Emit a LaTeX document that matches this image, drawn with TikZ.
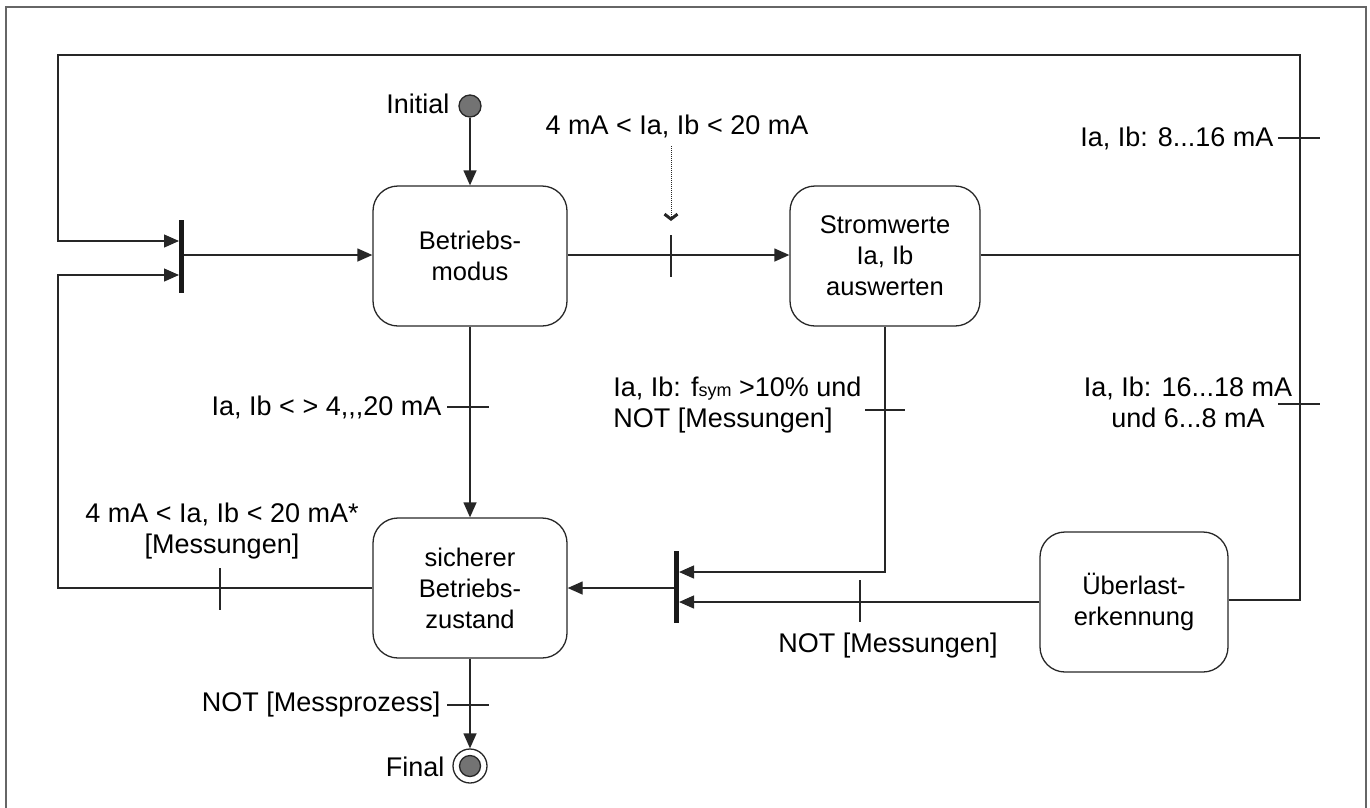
\documentclass[tikz,border=0pt]{standalone}
\usepackage{fontspec}
\setmainfont{Liberation Sans}
\usetikzlibrary{arrows.meta}
\begin{document}
\begin{tikzpicture}[x=1pt,y=-1pt,
  font=\fontsize{27}{31}\selectfont,
  line width=1.3pt,
  state/.style={draw=black!85,rounded corners=25pt,minimum width=194pt,minimum height=140pt,align=center,inner sep=0pt,font=\fontsize{25.5}{31}\selectfont},
  conn/.style={draw=black!85},
  arr/.style={conn,-{Triangle[length=15pt,width=13pt]}},
  forkbar/.style={fill=black!90,draw=none},
  lbl/.style={inner sep=0pt,align=center},
  frame/.style={draw=black!60,line width=2.2pt}
]
\useasboundingbox (0,0) rectangle (1370,807);
% outer frame
\draw[frame] (6,820) -- (6,7) -- (1366,7) -- (1366,820);

% states
\node[state] (betr) at (470,256) {Betriebs-\\modus};
\node[state,minimum width=190pt] (strom) at (885,256) {Stromwerte\\Ia, Ib\\auswerten};
\node[state] (sich) at (470,588) {sicherer\\Betriebs-\\zustand};
\node[state,minimum width=188pt] (uber) at (1134,602) {Überlast-\\erkennung};

% initial / final
\node[circle,draw=black!85,fill=black!55,minimum size=22pt,inner sep=0pt,line width=1.3pt] (init) at (470,106) {};
\node[lbl,anchor=east] (initl) at (450,104) {Initial};
\node[circle,draw=black!85,fill=white,minimum size=34pt,inner sep=0pt,line width=1.3pt] (fin) at (470,766) {};
\node[circle,draw=black!85,fill=black!55,minimum size=21pt,inner sep=0pt,line width=1.3pt] (finin) at (470,766) {};
\node[lbl,anchor=east] (finl) at (445,767) {Final};

% fork bars
\fill[forkbar] (179,220) rectangle (184,293);
\coordinate (f1a) at (179,241);
\coordinate (f1b) at (179,275);
\coordinate (f1o) at (184,255);
\fill[forkbar] (674,551) rectangle (679,623);
\coordinate (f2a) at (679,572);
\coordinate (f2b) at (679,602);
\coordinate (f2o) at (674,588);

% connectors
\draw[arr] (init) -- (betr);
\draw[arr] (f1o) -- (betr.west |- f1o);
\draw[arr] (betr.east |- 0,255) -- (strom.west |- 0,255);
\draw[arr] (betr) -- (sich);
\draw[arr] (sich) -- (fin);
\draw[arr] (f2o) -- (sich.east |- f2o);

% loops
\coordinate (tl) at (58,55);
\coordinate (tr) at (1300,55);
\coordinate (br) at (1300,600);
\draw[arr] (uber.east |- br) -- (br) -- (tr) -- (tl) -- (tl |- f1a) -- (f1a);
\draw[conn] (strom.east |- 0,255) -- (1300,255);
\coordinate (bl) at (58,588);
\draw[arr] (sich.west) -- (bl) -- (bl |- f1b) -- (f1b);
\draw[arr] (strom.south) -- (strom.south |- f2a) -- (f2a);
\draw[arr] (uber.west |- f2b) -- (f2b);

% ticks
\draw[conn] (671,235) -- (671,277);
\draw[conn] (1278,138) -- (1320,138);
\draw[conn] (1278,404) -- (1320,404);
\draw[conn] (447,407) -- (489,407);
\draw[conn] (865,410) -- (905,410);
\draw[conn] (860,580) -- (860,622);
\draw[conn] (220,568) -- (220,610);
\draw[conn] (447,705) -- (489,705);

% dotted trigger
\coordinate (dtop) at (671,146);
\coordinate (dbot) at (671,221);
\draw[conn,densely dotted,line width=1pt,-{Straight Barb[length=5pt,width=13pt,line width=3pt]}] (dtop) -- (dbot);

% labels
\node[lbl] (l1) at (677,126) {4 mA < Ia, Ib < 20 mA};
\node[lbl,anchor=east] (l2) at (1274,138) {Ia, Ib: 8...16 mA};
\node[lbl,align=center] (l3) at (1188,402) {Ia, Ib: 16...18 mA\\und 6...8 mA};
\node[lbl,anchor=east] (l4) at (442,407) {Ia, Ib < > 4,{},{},20 mA};
\node[lbl,align=left,anchor=east] (l5) at (862,405) {Ia, Ib: f{\fontsize{18}{20}\selectfont sym} >10\% und\\NOT [Messungen]};
\node[lbl] (l6) at (888,646) {NOT [Messungen]};
\node[lbl] (l7) at (222,531) {4 mA < Ia, Ib < 20 mA*\\{}[Messungen]};
\node[lbl,anchor=east] (l8) at (441,705) {NOT [Messprozess]};
\end{tikzpicture}
\end{document}
